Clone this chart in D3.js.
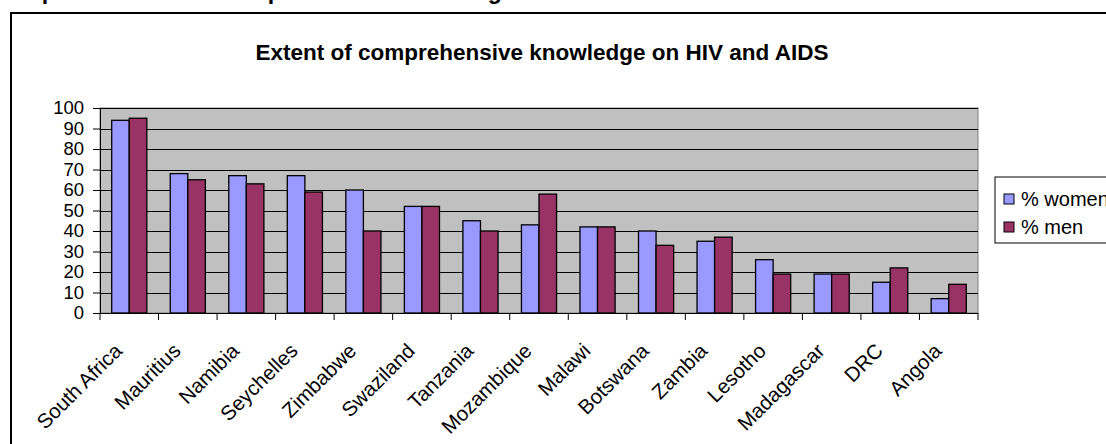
<!DOCTYPE html>
<html>
<head>
<meta charset="utf-8">
<script src="https://cdn.jsdelivr.net/npm/d3@7"></script>
<style>
  html, body { margin: 0; padding: 0; background: #fff; overflow: hidden; }
  svg { display: block; font-family: Arial, "Liberation Sans", sans-serif; }
</style>
</head>
<body>
<svg id="chart" width="1106" height="444"></svg>
<script>
// Comprehensive knowledge on HIV and AIDS, by country and sex (%)
const countries = ["South Africa", "Mauritius", "Namibia", "Seychelles", "Zimbabwe",
  "Swaziland", "Tanzania", "Mozambique", "Malawi", "Botswana", "Zambia",
  "Lesotho", "Madagascar", "DRC", "Angola"];
const women = [94, 68, 67, 67, 60, 52, 45, 43, 42, 40, 35, 26, 19, 15, 7];
const men   = [95, 65, 63, 59, 40, 52, 40, 58, 42, 33, 37, 19, 19, 22, 14];
const seriesNames = ["% women", "% men"];
const yTicks = [0, 10, 20, 30, 40, 50, 60, 70, 80, 90, 100];
const chartTitle = "Extent of comprehensive knowledge on HIV and AIDS";
const pageHeading = "Graph 17: Extent of comprehensive knowledge on HIV and AIDS";

const colors = ["#9999FF", "#993366"];
const svg = d3.select("#chart");

// heading of the page above the chart frame
svg.append("text")
  .attr("x", 2).attr("y", -1)
  .attr("font-size", 23).attr("font-weight", "bold")
  .attr("fill", "#000")
  .text(pageHeading);

// chart frame
svg.append("rect")
  .attr("x", 11).attr("y", 13)
  .attr("width", 1110).attr("height", 450)
  .attr("fill", "#fff").attr("stroke", "#000").attr("stroke-width", 2);

svg.append("text")
  .attr("x", 542).attr("y", 60)
  .attr("text-anchor", "middle")
  .attr("font-size", 22.5).attr("font-weight", "bold")
  .text(chartTitle);

const plot = { left: 100, right: 978, top: 108, bottom: 313 };

const x = d3.scaleBand().domain(countries).range([plot.left, plot.right]).paddingInner(0).paddingOuter(0);
const inner = d3.scaleBand().domain(seriesNames)
  .range([x.bandwidth() * 0.2, x.bandwidth() * 0.8]).padding(0);
const y = d3.scaleLinear().domain([0, 100]).range([plot.bottom, plot.top]);

// plot area
svg.append("rect")
  .attr("x", plot.left).attr("y", plot.top)
  .attr("width", plot.right - plot.left).attr("height", plot.bottom - plot.top)
  .attr("fill", "#C0C0C0").attr("stroke", "#808080").attr("stroke-width", 1);

// gridlines
svg.append("g").selectAll("line")
  .data(yTicks.filter(d => d > 0))
  .join("line")
  .attr("x1", plot.left).attr("x2", plot.right)
  .attr("y1", d => Math.round(y(d)) + 0.5).attr("y2", d => Math.round(y(d)) + 0.5)
  .attr("stroke", "#000").attr("stroke-width", 1);

// bars
const rows = countries.map((c, i) => ({ c, vals: [women[i], men[i]] }));
const groups = svg.append("g").selectAll("g")
  .data(rows).join("g")
  .attr("transform", d => `translate(${x(d.c)},0)`);
groups.selectAll("rect")
  .data(d => d.vals.map((v, k) => ({ v, k })))
  .join("rect")
  .attr("x", d => inner(seriesNames[d.k]))
  .attr("y", d => y(d.v))
  .attr("width", inner.bandwidth())
  .attr("height", d => y(0) - y(d.v))
  .attr("fill", d => colors[d.k])
  .attr("stroke", "#000").attr("stroke-width", 1.3);

// y axis
const yAxis = d3.axisLeft(y).tickValues(yTicks).tickSize(7).tickPadding(9);
const gy = svg.append("g").attr("transform", `translate(${plot.left},0)`).call(yAxis);
gy.select(".domain").attr("stroke", "#000");
gy.selectAll(".tick line").attr("stroke", "#000");
gy.selectAll(".tick text").attr("font-size", 18.5).attr("font-family", "Arial, 'Liberation Sans', sans-serif").attr("fill", "#000");

// x axis: ticks at category boundaries
const gx = svg.append("g");
gx.append("line")
  .attr("x1", plot.left).attr("x2", plot.right)
  .attr("y1", plot.bottom + 0.5).attr("y2", plot.bottom + 0.5)
  .attr("stroke", "#000");
const bounds = countries.map(c => x(c)).concat([plot.right]);
gx.selectAll("line.tk").data(bounds).join("line")
  .attr("class", "tk")
  .attr("x1", d => d).attr("x2", d => d)
  .attr("y1", plot.bottom).attr("y2", plot.bottom + 7)
  .attr("stroke", "#000");
gx.selectAll("text").data(countries).join("text")
  .attr("transform", d => `translate(${x(d) + x.bandwidth() / 2 - 11},${plot.bottom + 34}) rotate(-45)`)
  .attr("text-anchor", "end")
  .attr("dy", "0.35em")
  .attr("font-size", 20.5)
  .text(d => d);

// legend
const lg = svg.append("g");
lg.append("rect")
  .attr("x", 995).attr("y", 177).attr("width", 130).attr("height", 66)
  .attr("fill", "#fff").attr("stroke", "#000").attr("stroke-width", 1);
const items = lg.selectAll("g").data(seriesNames).join("g")
  .attr("transform", (d, i) => `translate(1004,${199 + i * 28})`);
items.append("rect")
  .attr("x", 0).attr("y", -5).attr("width", 10).attr("height", 10)
  .attr("fill", (d, i) => colors[i]).attr("stroke", "#000").attr("stroke-width", 1);
items.append("text")
  .attr("x", 17).attr("y", 0).attr("dy", "0.35em")
  .attr("font-size", 20)
  .text(d => d);
</script>
</body>
</html>
